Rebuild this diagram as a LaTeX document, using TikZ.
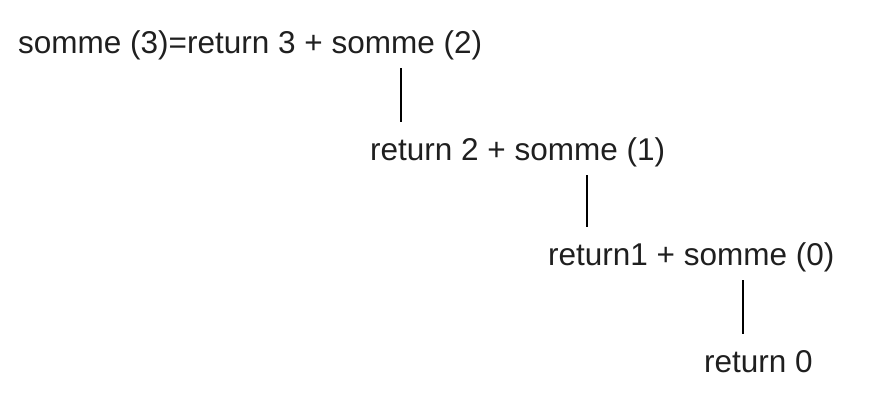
\documentclass[tikz,border=0pt]{standalone}
\usepackage{fontspec}
\setmainfont{Liberation Sans}
\begin{document}
\begin{tikzpicture}[x=1pt,y=-1pt,
  lbl/.style={anchor=base west,inner xsep=0pt,inner ysep=8pt,text height=30pt,text depth=7pt,font=\fontsize{31.5}{36}\selectfont,text=black!88},
  link/.style={draw=black,line width=1.6pt}]
\useasboundingbox (0,0) rectangle (888,412);
\node[lbl] (n1) at (18,53) {somme (3)=return 3 + somme (2)};
\node[lbl] (n2) at (370,160) {return 2 + somme (1)};
\node[lbl] (n3) at (548,265) {return1 + somme (0)};
\node[lbl] (n4) at (704,372) {return 0};
\coordinate (x1) at (401,0);
\coordinate (x2) at (587,0);
\coordinate (x3) at (743,0);
\draw[link] (n1.south -| x1) -- (n2.north -| x1);
\draw[link] (n2.south -| x2) -- (n3.north -| x2);
\draw[link] (n3.south -| x3) -- (n4.north -| x3);
\end{tikzpicture}
\end{document}
